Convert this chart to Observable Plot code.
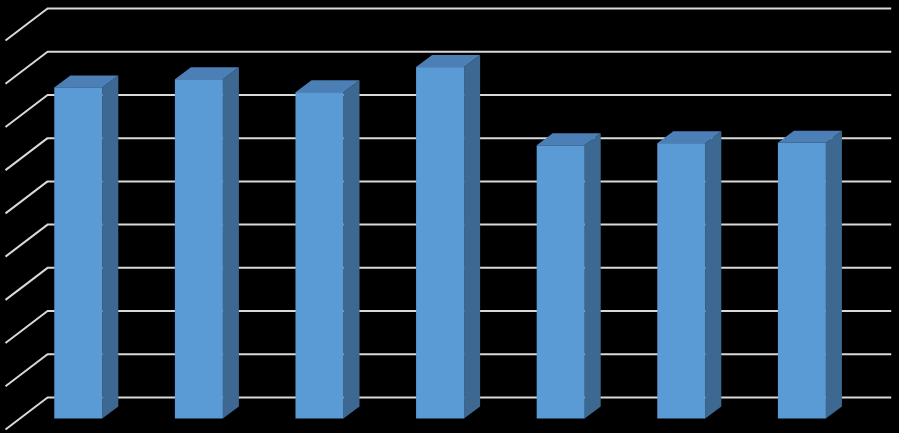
<!DOCTYPE html>
<html>
<head>
<meta charset="utf-8">
<script src="https://cdn.jsdelivr.net/npm/d3@7"></script>
<script src="https://cdn.jsdelivr.net/npm/@observablehq/plot@0.6"></script>
<style>
  html, body { margin: 0; padding: 0; background: #000; }
  #chart svg { display: block; }
</style>
</head>
<body>
<div id="chart"></div>
<script>
// Data
const categories = ["1", "2", "3", "4", "5", "6", "7"];
const values = [7.66, 7.85, 7.55, 8.13, 6.32, 6.37, 6.38];
const gridValues = [0, 1, 2, 3, 4, 5, 6, 7, 8, 9];

// 3D geometry (data units)
const barLeft = 0.295, barRight = 0.693;   // bar front face within band
const barDx = 0.133, barDy = 0.278;        // bar depth offset
const backDx = 0.235, backDy = 0.4975;     // back wall offset from bar front plane
const frontDx = -0.1136, frontDy = -0.243; // floor front edge offset

const bars = categories.map((c, i) => ({i, c, v: values[i]}));

const sidePts = bars.flatMap(b => [
  {i: b.i, x: b.i + barRight, y1: 0, y2: b.v},
  {i: b.i, x: b.i + barRight + barDx, y1: barDy, y2: b.v + barDy}
]);
const topPts = bars.flatMap(b => [
  {i: b.i, y: b.v, x1: b.i + barLeft, x2: b.i + barRight},
  {i: b.i, y: b.v + barDy, x1: b.i + barLeft + barDx, x2: b.i + barRight + barDx}
]);
const gridRows = gridValues.map(v => ({
  v,
  bx1: backDx, bx2: categories.length + backDx, by: v + backDy,
  fx: frontDx, fy: v + frontDy
}));

const gridColor = "#d9d9d9";

const chart = Plot.plot({
  width: 899,
  height: 433,
  marginLeft: 18.7,
  marginRight: 36.1,
  marginTop: 29.5,
  marginBottom: 14.5,
  style: {background: "#000"},
  x: {domain: [0, categories.length], axis: null},
  y: {domain: [0, 9], axis: null},
  marks: [
    Plot.ruleY(gridRows, {y: "by", x1: "bx1", x2: "bx2", stroke: gridColor, strokeWidth: 2}),
    Plot.link(gridRows, {x1: "bx1", y1: "by", x2: "fx", y2: "fy", stroke: gridColor, strokeWidth: 2}),
    Plot.areaY(sidePts, {x: "x", y1: "y1", y2: "y2", z: "i", fill: "#3c6891", curve: "linear"}),
    Plot.areaX(topPts, {y: "y", x1: "x1", x2: "x2", z: "i", fill: "#4b7fb6", curve: "linear"}),
    Plot.rectY(bars, {x1: d => d.i + barLeft, x2: d => d.i + barRight, y1: d => 0, y2: "v", fill: "#5b9bd5", inset: 0})
  ]
});
document.getElementById("chart").appendChild(chart);
</script>
</body>
</html>
